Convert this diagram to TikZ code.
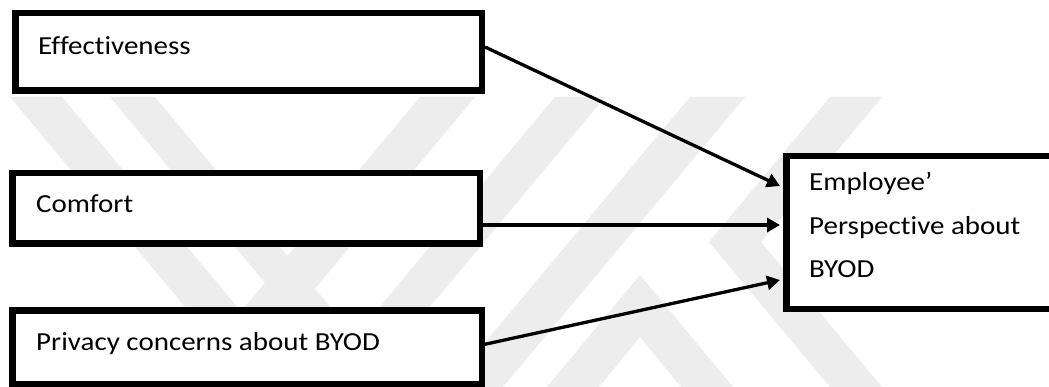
\documentclass[tikz,border=0pt]{standalone}
\usepackage{fontspec}
\setmainfont{Carlito}[FakeStretch=1.115,Ligatures={NoCommon}]
\usetikzlibrary{arrows.meta}
\definecolor{wm}{RGB}{237,237,237}
\begin{document}
\begin{tikzpicture}[x=1pt,y=-1pt,
  box/.style={draw=black, line width=6.5pt, fill=white, inner sep=0pt, anchor=north west},
  lbl/.style={anchor=base west, inner sep=0pt, font=\fontsize{26pt}{43.5pt}\selectfont},
  arr/.style={line width=3.3pt, -{Triangle[length=13pt,width=14pt]}},
  wmk/.style={fill=wm, draw=none}]
\useasboundingbox (0,0) rectangle (1049,387);
\clip (0,0) rectangle (1049,387);
\fill[white] (0,0) rectangle (1049,387);
% watermark
\fill[wmk] (10,97) -- (62,97) -- (304,387) -- (252,387) -- cycle;
\fill[wmk] (110,97) -- (155,97) -- (397,387) -- (352,387) -- cycle;
\fill[wmk] (420,97) -- (475,97) -- (233,387) -- (178,387) -- cycle;
\fill[wmk] (555,97) -- (605,97) -- (363,387) -- (313,387) -- cycle;
\fill[wmk] (690,97) -- (745,97) -- (503,387) -- (448,387) -- cycle;
\fill[wmk] (830,97) -- (882,97) -- (761,242) -- (882,387) -- (830,387) -- (709,242) -- cycle;
\fill[wmk] (640,275) -- (733,387) -- (681,387) -- (640,337) -- (599,387) -- (547,387) -- cycle;
% boxes
\node[box, minimum width=466.5pt, minimum height=77.5pt] (b1) at (12,10) {};
\node[box, minimum width=467.5pt, minimum height=70.5pt] (b2) at (9,170) {};
\node[box, minimum width=469.5pt, minimum height=74pt] (b3) at (9,307) {};
\node[box, minimum width=275.5pt, minimum height=152.5pt] (b4) at (783,153) {};
% texts
\node[lbl] (t1) at (38,55) {Effectiveness};
\node[lbl] (t2) at (36,213) {Comfort};
\node[lbl] (t3) at (36,350) {Privacy concerns about BYOD};
\node[lbl] (t4a) at (809,191) {Employee’};
\node[lbl] (t4b) at (809,234.5) {Perspective about};
\node[lbl] (t4c) at (809,278) {BYOD};
% arrows
\draw[arr] ([yshift=5pt]b1.east) -- ([xshift=-3pt,yshift=46.5pt]b4.west);
\draw[arr] ([yshift=-16.5pt]b2.east) -- ([xshift=-3pt,yshift=7.5pt]b4.west);
\draw[arr] ([yshift=3pt]b3.east) -- ([xshift=-3pt,yshift=-47.5pt]b4.west);
\end{tikzpicture}
\end{document}
